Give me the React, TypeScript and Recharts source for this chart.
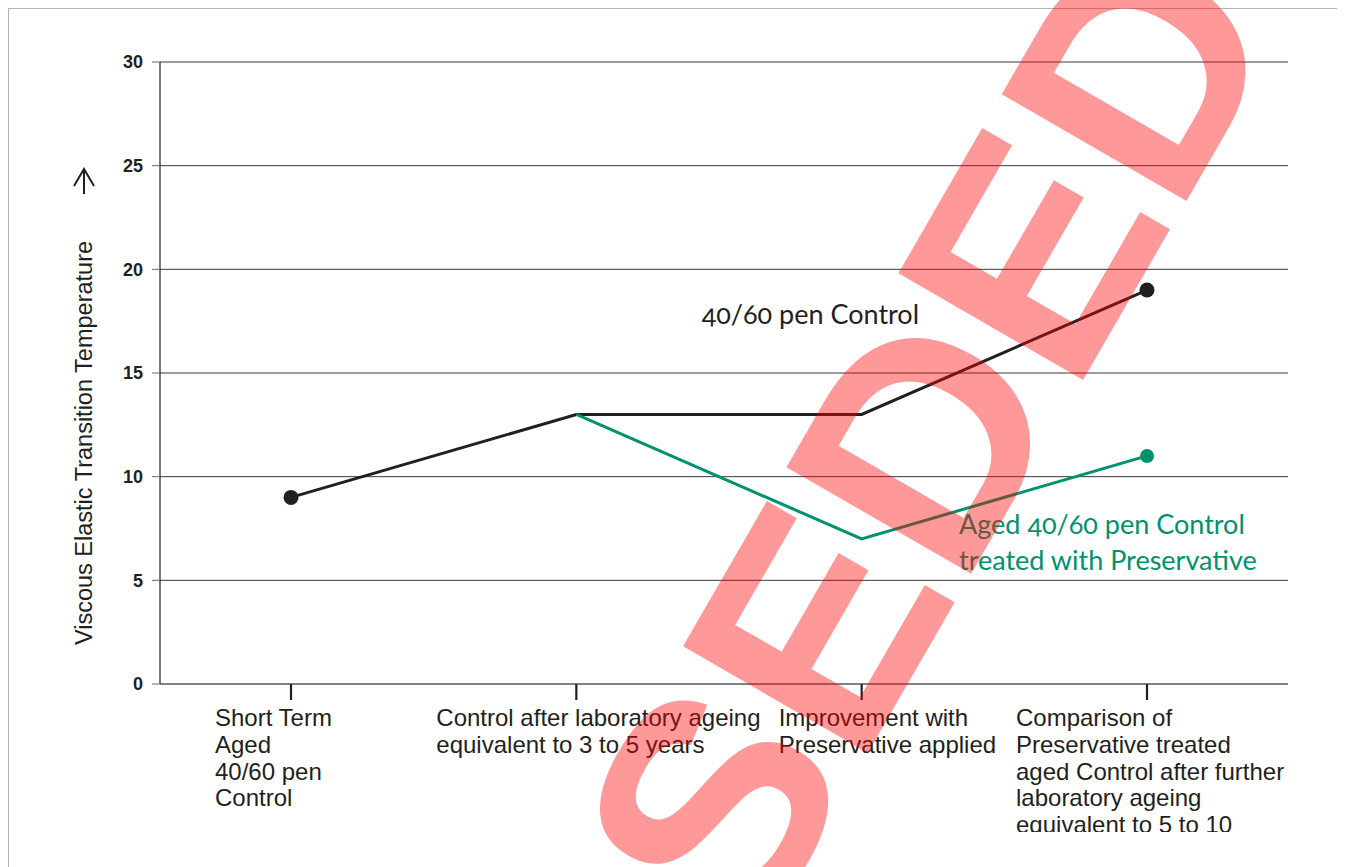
import React from "react";
import {
  LineChart,
  Line,
  XAxis,
  YAxis,
  CartesianGrid,
  LabelList,
} from "recharts";

// stages along the x axis (one entry per line of the wrapped label)
const stageLines = [
  ["Short Term", "Aged", "40/60 pen", "Control"],
  ["Control after laboratory ageing", "equivalent to 3 to 5 years"],
  ["Improvement with", "Preservative applied"],
  [
    "Comparison of",
    "Preservative treated",
    "aged Control after further",
    "laboratory ageing",
    "equivalent to 5 to 10",
  ],
];
const stages = stageLines.map((l) => l.join(" "));

const controlValues = [9, 13, 13, 19];
const treatedValues = [null, 13, 7, 11];

const controlMarkers = [true, false, false, true];
const treatedMarkers = [false, false, false, true];

const yTicks = [0, 5, 10, 15, 20, 25, 30];

const controlLabel = ["40/60 pen Control"];
const treatedLabel = ["Aged 40/60 pen Control", "treated with Preservative"];

const data = stages.map((name, i) => ({
  name,
  control: controlValues[i],
  treated: treatedValues[i],
}));

const INK = "#231f20";
const GREEN = "#00916f";
const tickFont = "'Liberation Sans', Arial, sans-serif";
const labelFont = "Lato, 'Open Sans', sans-serif";

// left offset of each wrapped tick label relative to its tick
const tickDx = [-76, -140, -83, -131];

function StageTick(props: any) {
  const { x, y, index } = props;
  const lines = stageLines[index] || [];
  const left = x + tickDx[index];
  return (
    <text x={left} y={y + 24} fill={INK} fontSize={24} fontFamily={tickFont} textAnchor="start">
      {lines.map((t, i) => (
        <tspan key={i} x={left} dy={i === 0 ? 0 : 26.8}>
          {t}
        </tspan>
      ))}
    </text>
  );
}

function YLabel(props: any) {
  const vb = props.viewBox || { x: 0, y: 53, width: 151, height: 622 };
  const cx = vb.x + 75;
  const cy = vb.y + 381;
  const top = vb.y + 107;
  const bottom = vb.y + 132;
  return (
    <g>
      <text
        x={cx}
        y={cy}
        fill={INK}
        fontFamily={tickFont}
        fontSize={23.5}
        textAnchor="middle"
        dominantBaseline="central"
        transform={`rotate(-90, ${cx}, ${cy})`}
      >
        Viscous Elastic Transition Temperature
      </text>
      <path
        d={`M${cx},${bottom} L${cx},${top} M${cx - 10},${top + 17} L${cx},${top} L${cx + 10},${top + 17}`}
        stroke={INK}
        strokeWidth={2}
        fill="none"
      />
    </g>
  );
}

function makeDot(markers: boolean[], color: string, r: number) {
  return (p: any) => {
    if (!markers[p.index] || p.cy == null) return <g key={p.index} />;
    return <circle key={p.index} cx={p.cx} cy={p.cy} r={r} fill={color} stroke="none" />;
  };
}

function seriesLabel(lines: string[], at: number, dx: number, dy: number, color: string) {
  return (p: any) => {
    if (p.index !== at) return null;
    return (
      <text
        key="lbl"
        x={p.x + dx}
        y={p.y + dy}
        fill={color}
        fontSize={27}
        fontFamily={labelFont}
        style={{ fontVariantNumeric: "oldstyle-nums" }}
      >
        {lines.map((t, i) => (
          <tspan key={i} x={p.x + dx} dy={i === 0 ? 0 : 36}>
            {t}
          </tspan>
        ))}
      </text>
    );
  };
}

export default function App() {
  return (
    <div style={{ position: "relative" }}>
      <div
        style={{
          width: 1337,
          height: 859,
          boxSizing: "border-box",
          borderTop: "1px solid #b4b4b4",
          borderLeft: "1px solid #b4b4b4",
          overflow: "hidden",
          background: "#fff",
        }}
      >
        <LineChart
          width={1336}
          height={823}
          data={data}
          margin={{ top: 53, right: 57, bottom: 8, left: 0 }}
        >
          <CartesianGrid horizontal vertical={false} stroke="#3a3a3a" strokeWidth={1} />
          <XAxis
            dataKey="name"
            padding={{ left: 131, right: 141 }}
            height={140}
            axisLine={{ stroke: "#7a7a7a", strokeWidth: 1.5 }}
            tickLine={{ stroke: INK, strokeWidth: 2.2 }}
            tickSize={16}
            tick={<StageTick />}
            interval={0}
          />
          <YAxis
            domain={[0, 30]}
            ticks={yTicks}
            width={151}
            axisLine={{ stroke: INK, strokeWidth: 1.2 }}
            tickLine={{ stroke: "#666", strokeWidth: 1 }}
            tickSize={8}
            tickMargin={9}
            tick={{ fill: INK, fontSize: 18, fontWeight: "bold", fontFamily: tickFont }}
            label={<YLabel />}
          />
          <YAxis
            yAxisId="frame"
            orientation="right"
            domain={[0, 30]}
            width={0}
            tick={false}
            tickLine={false}
            axisLine={{ stroke: "#6a6a6a", strokeWidth: 1.2 }}
          />
          <Line
            dataKey="control"
            stroke={INK}
            strokeWidth={3}
            dot={makeDot(controlMarkers, INK, 7.5)}
            activeDot={false}
            isAnimationActive={false}
          >
            <LabelList dataKey="control" content={seriesLabel(controlLabel, 2, -160, -90, INK)} />
          </Line>
          <Line
            dataKey="treated"
            stroke={GREEN}
            strokeWidth={3}
            dot={makeDot(treatedMarkers, GREEN, 7)}
            activeDot={false}
            isAnimationActive={false}
          >
            <LabelList dataKey="treated" content={seriesLabel(treatedLabel, 3, -188, 78, GREEN)} />
          </Line>
        </LineChart>
      </div>
      <svg
        width={1345}
        height={867}
        style={{ position: "fixed", left: 0, top: 0, pointerEvents: "none" }}
      >
        <text
          x={1288}
          y={25}
          textAnchor="end"
          fontSize={310}
          fontWeight="bold"
          fontFamily={tickFont}
          fill="#ff0000"
          fillOpacity={0.4}
          transform="rotate(-60, 1288, 25)"
        >
          SUPERSEDED
        </text>
      </svg>
    </div>
  );
}
